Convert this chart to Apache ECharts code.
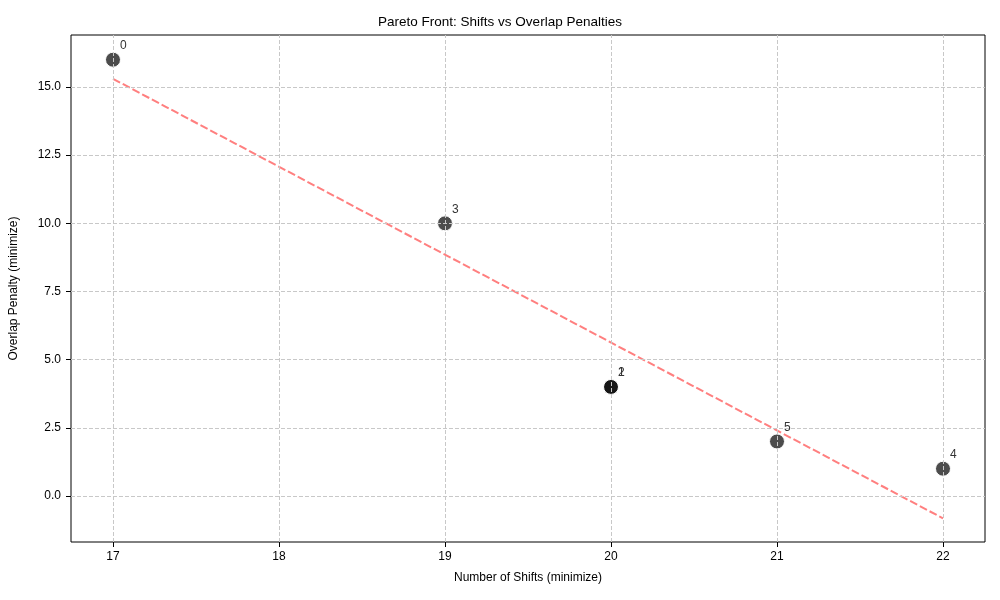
<!DOCTYPE html>
<html>
<head>
<meta charset="utf-8">
<script src="https://cdn.jsdelivr.net/npm/echarts@6/dist/echarts.min.js"></script>
<style>
  html, body { margin: 0; padding: 0; background: #fff; }
  #main { width: 1000px; height: 600px; }
</style>
</head>
<body>
<div id="main"></div>
<script>
    // data
    var pointIds = ['0', '1', '2', '3', '4', '5'];
    var shifts = [17, 20, 20, 19, 22, 21];
    var penalties = [16, 4, 4, 10, 1, 2];
    // dashed trend line ends
    var trendX = [17, 22];
    var trendY = [15.3, -0.82];
    var xTicks = [17, 18, 19, 20, 21, 22];
    var yTicks = [0, 2.5, 5, 7.5, 10, 12.5, 15];

    var font = 'Liberation Sans, Arial, sans-serif';
    var points = shifts.map(function (x, i) {
        return { value: [x, penalties[i]], name: pointIds[i] };
    });
    var trend = trendX.map(function (x, i) { return [x, trendY[i]]; });

    var gridStyle = { color: '#c8c8c8', width: 1, type: [4, 2] };
    var gridLines = [];
    xTicks.forEach(function (v) { gridLines.push({ xAxis: v }); });
    yTicks.forEach(function (v) { gridLines.push({ yAxis: v }); });

    var myChart = echarts.init(document.getElementById('main'), null, { renderer: 'canvas' });
    var option = {
        backgroundColor: '#fff',
        animation: false,
        textStyle: { fontFamily: font },
        title: {
            text: 'Pareto Front: Shifts vs Overlap Penalties',
            left: 'center',
            top: 10,
            textStyle: { fontFamily: font, fontSize: 13.5, fontWeight: 'normal', color: '#000' }
        },
        grid: {
            left: 71, right: 15, top: 35, bottom: 58,
            show: true, borderColor: '#000', borderWidth: 1, backgroundColor: 'transparent'
        },
        xAxis: {
            type: 'value',
            min: 16.747,
            max: 22.253,
            name: 'Number of Shifts (minimize)',
            nameLocation: 'middle',
            nameGap: 30,
            nameTextStyle: { fontFamily: font, fontSize: 12, color: '#000' },
            axisLine: { show: false, onZero: false },
            splitLine: { show: false },
            axisTick: { show: true, length: 5, lineStyle: { color: '#000' }, customValues: xTicks },
            axisLabel: {
                fontFamily: font, fontSize: 12, color: '#000', margin: 9,
                customValues: xTicks,
                formatter: function (v) { return String(v); }
            }
        },
        yAxis: {
            type: 'value',
            min: -1.687,
            max: 16.907,
            name: 'Overlap Penalty (minimize)',
            nameLocation: 'middle',
            nameGap: 51,
            nameRotate: 90,
            nameTextStyle: { fontFamily: font, fontSize: 12, color: '#000' },
            axisLine: { show: false, onZero: false },
            splitLine: { show: false },
            axisTick: { show: true, length: 5, lineStyle: { color: '#000' }, customValues: yTicks },
            axisLabel: {
                fontFamily: font, fontSize: 12, color: '#000', margin: 10,
                customValues: yTicks,
                formatter: function (v) { return v.toFixed(1); }
            }
        },
        series: [
            {
                type: 'line',
                data: [],
                z: 1,
                silent: true,
                markLine: {
                    silent: true,
                    symbol: 'none',
                    label: { show: false },
                    lineStyle: gridStyle,
                    data: gridLines
                }
            },
            {
                type: 'scatter',
                data: points,
                z: 3,
                symbolSize: 15,
                itemStyle: { color: 'rgba(0,0,0,0.7)', opacity: 1, borderColor: '#fff', borderWidth: 1 },
                label: {
                    show: true,
                    position: [15, 0],
                    align: 'left',
                    verticalAlign: 'bottom',
                    formatter: '{b}',
                    fontFamily: font,
                    fontSize: 12,
                    color: '#333'
                }
            },
            {
                type: 'line',
                data: trend,
                z: 4,
                symbol: 'none',
                lineStyle: { color: 'rgba(255,0,0,0.5)', width: 2, type: [8, 3] }
            }
        ]
    };
    myChart.setOption(option);
</script>
</body>
</html>
